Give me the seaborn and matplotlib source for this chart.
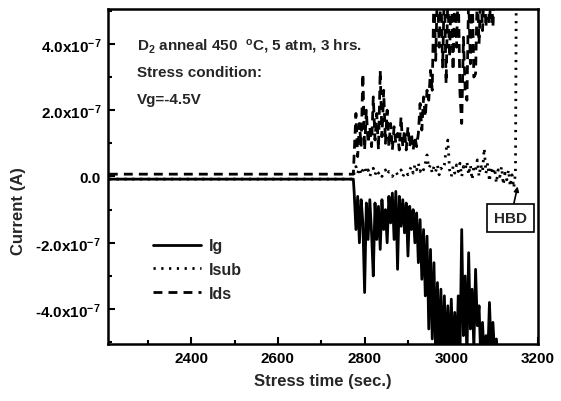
import matplotlib
matplotlib.use("Agg")
import matplotlib.pyplot as plt
import seaborn as sns
import pandas as pd
from matplotlib.ticker import FixedLocator, FixedFormatter, MultipleLocator

# --- Data (currents in units of 1e-7 A) ---
t_pre = [2210, 2774]
ig_pre = [-0.08, -0.08]
isub_pre = [-0.08, -0.08]
ids_pre = [0.07, 0.07]

t_stress = [
    2776, 2780, 2784, 2788, 2792, 2796, 2800, 2804, 2808, 2812,
    2816, 2820, 2824, 2828, 2832, 2836, 2840, 2844, 2848, 2852,
    2856, 2860, 2864, 2868, 2872, 2876, 2880, 2884, 2888, 2892,
    2896, 2900, 2904, 2908, 2912, 2916, 2920, 2924, 2928, 2932,
    2936, 2940, 2944, 2948, 2952, 2956, 2960, 2964, 2968, 2972,
    2976, 2980, 2984, 2988, 2992, 2996, 3000, 3004, 3008, 3012,
    3016, 3020, 3024, 3028, 3032, 3036, 3040, 3044, 3048, 3052,
    3056, 3060, 3064, 3068, 3072, 3076, 3080, 3084, 3088, 3092,
    3096, 3100, 3104, 3108, 3112, 3116, 3120, 3124, 3128, 3132,
    3136, 3140, 3144, 3148,
]

ig_stress = [
    -0.5, -1.6, -0.6, -2.0, -0.7, -1.4, -3.5, -0.8, -1.9, -0.7,
    -1.7, -3.0, -0.8, -1.9, -0.9, -2.2, -0.7, -1.6, -1.0, -2.0,
    -0.6, -1.4, -0.5, -1.9, -0.45, -2.8, -0.6, -1.5, -0.7, -1.7,
    -0.8, -2.4, -0.9, -1.6, -1.0, -2.0, -1.1, -2.6, -1.3, -3.1,
    -1.6, -3.6, -1.8, -4.6, -2.2, -4.9, -2.6, -5.5, -3.2, -5.4,
    -3.4, -5.6, -3.6, -5.5, -3.9, -5.6, -3.7, -5.5, -4.1, -5.6,
    -3.6, -5.4, -1.6, -4.8, -3.0, -5.5, -2.3, -4.6, -3.4, -5.2,
    -2.8, -4.5, -3.9, -5.5, -4.4, -5.6, -4.8, -5.5, -3.8, -5.3,
    -4.4, -5.4, -4.9, -5.6, -5.8, -5.8, -5.8, -5.8, -5.8, -5.8,
    -5.8, -5.8, -5.8, -5.8,
]

ids_stress = [
    0.7, 1.9, 0.6, 1.6, 0.9, 3.1, 0.8, 2.0, 1.0, 1.5,
    0.9, 2.4, 1.1, 1.9, 0.8, 3.2, 1.2, 2.6, 1.0, 2.0,
    0.9, 1.6, 0.8, 1.5, 1.0, 1.3, 0.8, 1.8, 0.9, 1.4,
    0.8, 1.5, 0.9, 1.3, 0.8, 1.2, 0.9, 1.3, 2.2, 1.4,
    2.4, 1.8, 2.6, 2.3, 3.2, 2.6, 5.6, 3.5, 5.8, 3.9,
    5.6, 3.3, 5.7, 2.8, 5.5, 3.6, 5.8, 3.2, 5.6, 3.9,
    5.7, 2.5, 1.6, 4.2, 2.6, 2.3, 5.5, 3.4, 5.8, 3.0,
    3.1, 5.6, 4.0, 5.7, 4.4, 5.8, 4.5, 5.6, 4.6, 5.7,
    4.5, 5.8, 5.8, 5.8, 5.8, 5.8, 5.8, 5.8, 5.8, 5.8,
    5.8, 5.8, 5.8, 5.8,
]

isub_stress = [
    0.15, 0.3, 0.1, 0.25, 0.05, 0.2, 0.3, 0.1, 0.2, 0.0,
    0.15, 0.25, 0.05, 0.2, 0.1, 0.15, 0.0, 0.1, 0.2, 0.05,
    0.15, 0.1, 0.0, 0.1, 0.15, 0.05, 0.1, 0.2, 0.0, 0.1,
    0.15, 0.05, 0.2, 0.3, 0.1, 0.35, 0.2, 0.4, 0.15, 0.3,
    0.2, 0.4, 0.65, 0.25, 0.35, 0.1, 0.3, 0.15, 0.35, 0.05,
    0.25, 0.2, 0.35, 0.8, 1.1, 0.2, 0.0, 0.3, 0.1, 0.35,
    0.15, 0.4, 0.0, 0.3, 0.2, 0.45, 0.05, 0.35, -0.1, 0.3,
    0.2, 0.5, 0.0, 0.35, 0.15, 0.85, 0.1, 0.4, -0.15, 0.3,
    0.05, 0.25, -0.2, 0.2, 0.0, 0.3, -0.25, 0.1, -0.1, 0.2,
    -0.3, 0.05, -0.35, 0.1,
]
# hard breakdown: substrate current jumps off scale
t_hbd = [3150]
isub_hbd = [6.0]

scale = 1e-7

yticks = [-4e-7, -2e-7, 0.0, 2e-7, 4e-7]
ytick_labels = ['-4.0x10$^{-7}$', '-2.0x10$^{-7}$', '0.0', '2.0x10$^{-7}$', '4.0x10$^{-7}$']
xticks = [2400, 2600, 2800, 3000, 3200]

# --- Style ---
sns.set_theme(style="ticks")
plt.rcParams['font.family'] = ['Liberation Sans', 'DejaVu Sans']
plt.rcParams['font.weight'] = 'bold'
plt.rcParams['mathtext.fontset'] = 'custom'
plt.rcParams['mathtext.rm'] = 'Liberation Sans:bold'
plt.rcParams['mathtext.it'] = 'Liberation Sans:bold'
plt.rcParams['mathtext.bf'] = 'Liberation Sans:bold'
plt.rcParams['mathtext.default'] = 'rm'

fig = plt.figure(figsize=(5.61, 4.02), dpi=100)
ax = fig.add_axes([0.1925, 0.142, 0.7665, 0.833])

ig_df = pd.DataFrame({'t': t_pre + t_stress, 'I': [v * scale for v in ig_pre + ig_stress]})
isub_df = pd.DataFrame({'t': t_pre + t_stress + t_hbd,
                        'I': [v * scale for v in isub_pre + isub_stress + isub_hbd]})
ids_df = pd.DataFrame({'t': t_pre + t_stress, 'I': [v * scale for v in ids_pre + ids_stress]})

lw = 2.0
sns.lineplot(data=ig_df, x='t', y='I', ax=ax, color='black', lw=lw,
             estimator=None, sort=False, label='Ig')
sns.lineplot(data=isub_df, x='t', y='I', ax=ax, color='black', lw=lw,
             linestyle=(0, (0.8, 2.0)), estimator=None, sort=False, label='Isub')
sns.lineplot(data=ids_df, x='t', y='I', ax=ax, color='black', lw=lw,
             linestyle=(0, (3.2, 2.2)), estimator=None, sort=False, label='Ids')

ax.set_xlim(2208, 3200)
ax.set_ylim(-5.05e-7, 5.05e-7)

ax.xaxis.set_major_locator(FixedLocator(xticks))
ax.xaxis.set_minor_locator(MultipleLocator(100))
ax.yaxis.set_major_locator(FixedLocator(yticks))
ax.yaxis.set_major_formatter(FixedFormatter(ytick_labels))
ax.yaxis.set_minor_locator(MultipleLocator(1e-7))

ax.tick_params(which='both', direction='in', width=1.5, labelsize=11, colors='black')
ax.tick_params(which='major', length=5, pad=5)
ax.tick_params(which='minor', length=3)
for lab in ax.get_xticklabels() + ax.get_yticklabels():
    lab.set_fontweight('bold')
for sp in ax.spines.values():
    sp.set_linewidth(1.8)
    sp.set_color('black')

ax.set_xlabel('Stress time (sec.)', fontsize=12, fontweight='bold', labelpad=6)
ax.set_ylabel('Current (A)', fontsize=12, fontweight='bold')
ax.yaxis.set_label_coords(-0.19, 0.40)

ax.text(0.067, 0.89, 'D$_2$ anneal 450  $^o$C, 5 atm, 3 hrs.', transform=ax.transAxes,
        fontsize=11, fontweight='bold', va='center')
ax.text(0.067, 0.812, 'Stress condition:', transform=ax.transAxes,
        fontsize=11, fontweight='bold', va='center')
ax.text(0.067, 0.731, 'Vg=-4.5V', transform=ax.transAxes,
        fontsize=11, fontweight='bold', va='center')

ax.annotate('HBD', xy=(3153, -0.3e-7), xytext=(3137, -1.25e-7), ha='center', va='center',
            fontsize=11, fontweight='bold',
            bbox=dict(boxstyle='square,pad=0.45', fc='white', ec='black', lw=1.2),
            arrowprops=dict(arrowstyle='-|>', color='black', lw=1.2, mutation_scale=7,
                            shrinkA=0, shrinkB=0))

ax.legend(loc='upper left', bbox_to_anchor=(0.09, 0.335), frameon=False, fontsize=11.5,
          handlelength=3.0, handletextpad=0.5, labelspacing=0.55, borderaxespad=0)

fig.savefig('out.png', dpi=100)
